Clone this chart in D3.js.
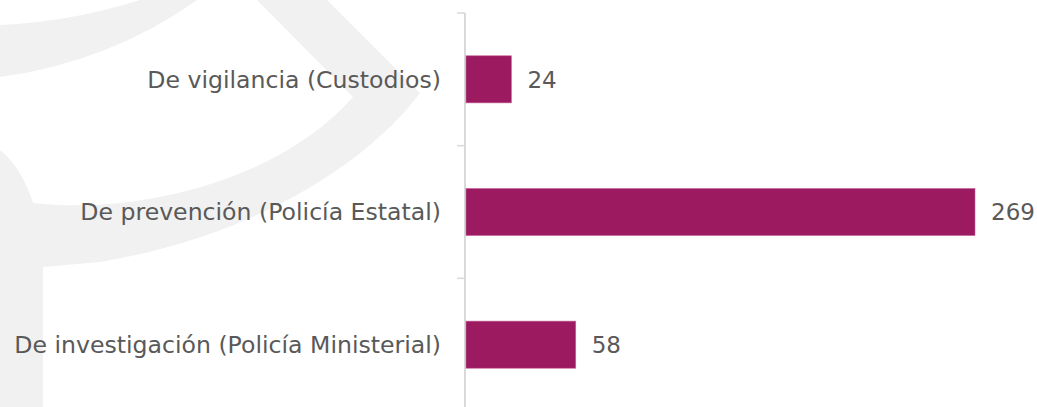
<!DOCTYPE html>
<html>
<head>
<meta charset="utf-8">
<script src="https://cdn.jsdelivr.net/npm/d3@7"></script>
<style>
    body { margin: 0; background: #fff; }
    svg { display: block; }
</style>
</head>
<body>
<script>
// datos del grafico
var categorias = ["De vigilancia (Custodios)", "De prevención (Policía Estatal)", "De investigación (Policía Ministerial)"];
var valores = [24, 269, 58];

var width = 1037;
var height = 407;
var fuente = "'DejaVu Sans', 'Open Sans', sans-serif";
var colorTexto = "#595959";
var colorBarra = "#9c1a60";

var svg = d3.select("body").append("svg")
    .attr("width", width)
    .attr("height", height);

// marca de agua gris del fondo
var fondo = svg.append("g").attr("fill", "#f1f1f1");
fondo.append("path")
    .attr("d", "M0,25 Q70,22 140,0 L197,0 Q110,62 0,77 Z");
fondo.append("path")
    .attr("d", "M257,0 L327,0 L420,93 C370,160 260,235 100,262 L43,267 L43,407 L0,407 L0,150 Q22,168 33,203 C140,215 280,180 353,97 Z");

var x = d3.scaleLinear()
    .domain([0, 269])
    .range([466, 975]);

var y = d3.scaleBand()
    .domain(categorias)
    .range([13, 411])
    .paddingInner(0.645)
    .paddingOuter(0.3225);

var off = (y.step() - y.bandwidth()) / 2;

// eje vertical
var eje = svg.append("g").attr("stroke", "#d9d9d9");
eje.append("line")
    .attr("x1", 465).attr("x2", 465)
    .attr("y1", 13).attr("y2", 411)
    .attr("stroke-width", 2);
var marcas = categorias.map(function (d) { return y(d) - off; });
marcas.push(y(categorias[categorias.length - 1]) + y.bandwidth() + off);
eje.selectAll("line.tick").data(marcas).enter()
    .append("line")
    .classed("tick", true)
    .attr("x1", 457).attr("x2", 465)
    .attr("y1", function (d) { return d; })
    .attr("y2", function (d) { return d; })
    .attr("stroke-width", 1.5);

var datos = categorias.map(function (c, i) { return { cat: c, val: valores[i] }; });

svg.selectAll("rect.barra").data(datos).enter()
    .append("rect")
    .classed("barra", true)
    .attr("x", x(0))
    .attr("y", function (d) { return y(d.cat); })
    .attr("width", function (d) { return x(d.val) - x(0); })
    .attr("height", y.bandwidth())
    .attr("fill", colorBarra)
    .attr("stroke", "#c4669a")
    .attr("stroke-width", 0.6);

// etiquetas de categoria
svg.selectAll("text.cat").data(datos).enter()
    .append("text")
    .classed("cat", true)
    .attr("x", 441)
    .attr("y", function (d) { return y(d.cat) + y.bandwidth() / 2; })
    .attr("dy", "0.36em")
    .attr("text-anchor", "end")
    .style("font-family", fuente)
    .style("font-size", "23.6px")
    .style("fill", colorTexto)
    .text(function (d) { return d.cat; });

// valores
svg.selectAll("text.val").data(datos).enter()
    .append("text")
    .classed("val", true)
    .attr("x", function (d) { return x(d.val) + 16; })
    .attr("y", function (d) { return y(d.cat) + y.bandwidth() / 2; })
    .attr("dy", "0.36em")
    .style("font-family", fuente)
    .style("font-size", "23px")
    .style("fill", colorTexto)
    .text(function (d) { return d.val; });
</script>
</body>
</html>
